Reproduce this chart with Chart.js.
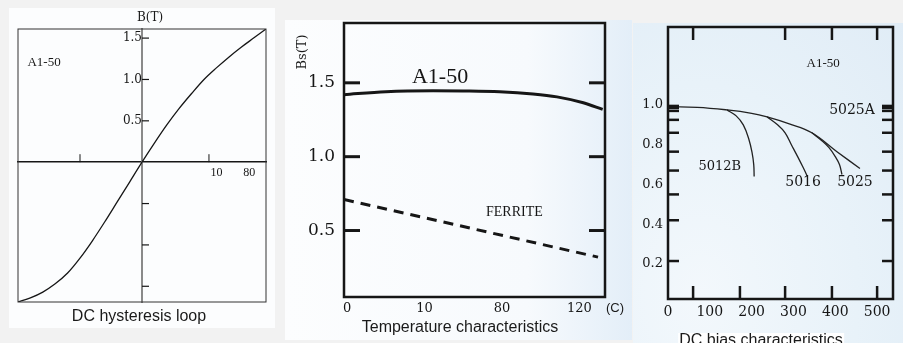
<!DOCTYPE html>
<html>
<head>
<meta charset="utf-8">
<script src="https://cdn.jsdelivr.net/npm/chart.js@4.4.1/dist/chart.umd.min.js"></script>
<style>
  html, body { margin: 0; padding: 0; background: #f2f2f2; }
  #page { position: relative; width: 903px; height: 343px; overflow: hidden; }
  .panel { position: absolute; }
  .panel canvas { position: absolute; left: 0; top: 0; }
  .cap { position: absolute; font-family: "Liberation Sans", Arial, sans-serif; font-size: 16px; line-height: 16px; color: #1a1a1a; white-space: nowrap; transform: translateX(-50%); }
  .serif { font-family: "DejaVu Serif", serif; }
</style>
</head>
<body>
<div id="page">
  <div class="panel" id="p1" style="left:9px;top:8px;width:266px;height:320px;background:#fcfdfe">
    <canvas id="c1" width="266" height="320"></canvas>
  </div>
  <div class="panel" id="p2" style="left:285px;top:20px;width:347px;height:320px;background:linear-gradient(90deg,#fcfdfe 0%,#f7fafd 70%,#e3eef8 100%)">
    <canvas id="c2" width="347" height="320"></canvas>
  </div>
  <div class="panel" id="p3" style="left:633px;top:23px;width:270px;height:320px;background:radial-gradient(ellipse at 25% 85%,#f3f8fc 0%,#e8f2f9 55%,#e0ecf6 100%)">
    <canvas id="c3" width="270" height="320"></canvas>
  </div>

  <div class="cap serif" style="left:150px;top:10px;font-size:12px;line-height:14px">B(T)</div>
  <div class="cap" style="left:139px;top:308px">DC hysteresis loop</div>

  <div class="cap serif" style="left:302px;top:45px;font-size:13px;line-height:14px;transform:translateX(-50%) rotate(-90deg)">Bs(T)</div>
  <div class="cap" style="left:615px;top:301px;font-size:13px;line-height:14px">(C)</div>
  <div class="cap" style="left:460px;top:319px">Temperature characteristics</div>

  <div class="cap" style="left:761px;top:333px;background:#fff;padding:0 1px;line-height:14px">DC bias characteristics</div>
</div>

<script>
// ── DC hysteresis loop ──
const hystH      = [-1, -0.9, -0.8, -0.7, -0.6, -0.5, -0.4, -0.3, -0.2, -0.1, 0, 0.1, 0.2, 0.3, 0.4, 0.5, 0.6, 0.7, 0.8, 0.9, 1];
const hystB      = [-1.69, -1.64, -1.57, -1.47, -1.34, -1.16, -0.95, -0.72, -0.48, -0.24, 0, 0.23, 0.45, 0.65, 0.83, 1.0, 1.14, 1.27, 1.39, 1.5, 1.61];
const hystBTicks = [0.5, 1.0, 1.5];
const hystBMarks = [-1.5, -1.0, -0.5, 0.5, 1.0, 1.5];
const hystHTicks = [0.6, 0.865];
const hystHLabels = ['10', '80'];
const hystHMarks = [-0.5, 0.54];

// ── Temperature characteristics ──
const tempPos    = [0, 1, 2, 3];
const tempLabels = ['0', '10', '80', '120'];
const a150X      = [-0.04, 0.5, 1.11, 1.5, 1.97, 2.4, 2.71, 3.05, 3.30];
const a150Bs     = [1.42, 1.44, 1.446, 1.445, 1.44, 1.425, 1.405, 1.365, 1.32];
const ferriteX   = [-0.04, 3.24];
const ferriteBs  = [0.71, 0.32];
const bsTicks    = [0.5, 1.0, 1.5];

// ── DC bias characteristics ──
const biasTicks  = [0, 100, 200, 300, 400, 500];
const biasMarksBottom = [60, 172, 280, 392, 500];
const biasMarksTop    = [60, 280, 392, 500];
const muTicks    = [0.2, 0.4, 0.6, 0.8, 1.0];
const muMarks    = [0.995, 0.985, 0.97, 0.925, 0.86, 0.765, 0.67, 0.55, 0.42, 0.215];
const mainX      = [0, 70, 141, 200, 237, 290, 344, 404, 459];
const mainMu     = [0.99, 0.988, 0.975, 0.958, 0.94, 0.905, 0.86, 0.765, 0.68];
const b5012X     = [141, 163, 180, 193, 201, 205, 206];
const b5012Mu    = [0.975, 0.945, 0.9, 0.83, 0.76, 0.70, 0.64];
const b5016X     = [237, 262, 280, 295, 310, 322, 330, 333];
const b5016Mu    = [0.94, 0.9, 0.86, 0.8, 0.74, 0.69, 0.655, 0.64];
const b5025X     = [344, 368, 385, 400, 410, 416];
const b5025Mu    = [0.86, 0.82, 0.785, 0.74, 0.70, 0.65];

const SERIF  = '"DejaVu Serif", serif';
const TIMES  = '"Liberation Serif", "Times New Roman", serif';
const INK    = '#161616';

const pts = (xs, ys) => xs.map((x, i) => ({ x, y: ys[i] }));
const fixTicks = vals => s => { s.ticks = vals.map(v => ({ value: v })); };
// fixed axis box, no label overhang padding
const fixW = w => s => { s.width = w; s.paddingTop = 0; s.paddingBottom = 0; };
const fixH = h => s => { s.height = h; s.paddingLeft = 0; s.paddingRight = 0; };

// inward tick marks, frame and in-plot labels
const decor = {
    id: 'decor',
    afterDraw(chart, args, o) {
        const { ctx, chartArea: a, scales } = chart;
        ctx.save();
        ctx.strokeStyle = INK;
        ctx.lineCap = 'butt';
        (o.marks || []).forEach(m => {
            const s = scales[m.axis];
            ctx.lineWidth = m.width;
            m.values.forEach(v => {
                const p = s.getPixelForValue(v);
                ctx.beginPath();
                if (m.axis === 'y') {
                    const x0 = m.from === 'right' ? a.right : m.from === 'zero' ? scales.x.getPixelForValue(0) : a.left;
                    const d  = m.from === 'right' ? -1 : 1;
                    ctx.moveTo(x0, p); ctx.lineTo(x0 + d * m.len, p);
                } else {
                    const y0 = m.from === 'top' ? a.top : m.from === 'zero' ? scales.y.getPixelForValue(0) : a.bottom;
                    const d  = m.from === 'top' ? 1 : -1;
                    ctx.moveTo(p, y0); ctx.lineTo(p, y0 + d * m.len);
                }
                ctx.stroke();
            });
        });
        if (o.frame) {
            ctx.lineWidth = o.frame;
            ctx.strokeStyle = o.frameColor || INK;
            ctx.strokeRect(a.left, a.top, a.width, a.height);
        }
        ctx.fillStyle = INK;
        ctx.textAlign = 'center';
        ctx.textBaseline = 'middle';
        (o.labels || []).forEach(l => {
            ctx.font = l.font;
            ctx.fillText(l.text, scales.x.getPixelForValue(l.x), scales.y.getPixelForValue(l.y));
        });
        ctx.restore();
    }
};

const base = {
    responsive: false,
    animation: false,
    devicePixelRatio: 1,
};
const quiet = { legend: { display: false }, tooltip: { enabled: false } };
const noGrid = { display: false, drawTicks: false };

// ── Chart 1 ──
new Chart(document.getElementById('c1'), {
    type: 'line',
    data: { datasets: [{
        data: pts(hystH, hystB), borderColor: INK, borderWidth: 1.3,
        pointRadius: 0, cubicInterpolationMode: 'monotone', fill: false
    }] },
    options: {
        ...base,
        layout: { padding: { left: 9, top: 21, right: 9, bottom: 26 } },
        scales: {
            x: {
                type: 'linear', min: -1, max: 1, position: { y: 0 },
                afterBuildTicks: fixTicks(hystHTicks),
                grid: noGrid,
                border: { display: true, color: INK, width: 1.5 },
                ticks: { padding: 3, color: INK, font: { family: TIMES, size: 12 },
                         maxRotation: 0, autoSkip: false,
                         callback: (v, i) => hystHLabels[i] }
            },
            y: {
                type: 'linear', min: -1.69, max: 1.61, position: { x: 0 },
                afterBuildTicks: fixTicks(hystBTicks),
                grid: noGrid,
                border: { display: true, color: '#8a8a8a', width: 2 },
                ticks: { padding: 5, color: INK, font: { family: SERIF, size: 12 },
                         callback: v => v.toFixed(1) }
            }
        },
        plugins: {
            ...quiet,
            decor: {
                frame: 1, frameColor: '#333',
                marks: [
                    { axis: 'y', values: hystBMarks, from: 'zero', len: 7, width: 1.2 },
                    { axis: 'x', values: hystHMarks, from: 'zero', len: 8, width: 1 }
                ],
                labels: [{ text: 'A1-50', x: -0.79, y: 1.21, font: '13px ' + TIMES }]
            }
        }
    },
    plugins: [decor]
});

// ── Chart 2 ──
new Chart(document.getElementById('c2'), {
    type: 'line',
    data: { datasets: [
        { data: pts(a150X, a150Bs), borderColor: INK, borderWidth: 3,
          pointRadius: 0, cubicInterpolationMode: 'monotone', fill: false },
        { data: pts(ferriteX, ferriteBs), borderColor: INK, borderWidth: 3,
          borderDash: [10, 7], pointRadius: 0, fill: false }
    ] },
    options: {
        ...base,
        layout: { padding: { left: 0, top: 3, right: 27, bottom: 0 } },
        scales: {
            x: {
                type: 'linear', min: -0.04, max: 3.33,
                afterBuildTicks: fixTicks(tempPos),
                afterFit: fixH(43),
                grid: noGrid, border: { display: false },
                ticks: { padding: 4, color: INK, font: { family: SERIF, size: 13 },
                         maxRotation: 0, autoSkip: false,
                         callback: (v, i) => tempLabels[i] }
            },
            y: {
                type: 'linear', min: 0.05, max: 1.905,
                afterBuildTicks: fixTicks(bsTicks),
                afterFit: fixW(59),
                grid: noGrid, border: { display: false },
                ticks: { padding: 9, color: INK, font: { family: SERIF, size: 17 },
                         callback: v => v.toFixed(1) }
            }
        },
        plugins: {
            ...quiet,
            decor: {
                frame: 2.5,
                marks: [
                    { axis: 'y', values: bsTicks, from: 'left', len: 16, width: 3 },
                    { axis: 'y', values: bsTicks, from: 'right', len: 16, width: 3 }
                ],
                labels: [
                    { text: 'A1-50', x: 1.20, y: 1.54, font: '22px ' + TIMES },
                    { text: 'FERRITE', x: 2.16, y: 0.62, font: '14px ' + TIMES }
                ]
            }
        }
    },
    plugins: [decor]
});

// ── Chart 3 ──
const thin = { borderColor: '#222', borderWidth: 1.3, pointRadius: 0, tension: 0.4, fill: false };
new Chart(document.getElementById('c3'), {
    type: 'line',
    data: { datasets: [
        { data: pts(mainX, mainMu), ...thin },
        { data: pts(b5012X, b5012Mu), ...thin },
        { data: pts(b5016X, b5016Mu), ...thin },
        { data: pts(b5025X, b5025Mu), ...thin }
    ] },
    options: {
        ...base,
        layout: { padding: { left: 0, top: 4, right: 10, bottom: 0 } },
        scales: {
            x: {
                type: 'linear', min: 0, max: 538,
                afterBuildTicks: fixTicks(biasTicks),
                afterFit: fixH(44),
                grid: noGrid, border: { display: false },
                ticks: { padding: 5, color: INK, font: { family: SERIF, size: 14 },
                         maxRotation: 0, autoSkip: false }
            },
            y: {
                type: 'linear', min: 0.024, max: 1.392,
                afterBuildTicks: fixTicks(muTicks),
                afterFit: fixW(35),
                grid: noGrid, border: { display: false },
                ticks: { padding: 5, color: INK, font: { family: SERIF, size: 13 },
                         callback: v => v.toFixed(1) }
            }
        },
        plugins: {
            ...quiet,
            decor: {
                frame: 2.5,
                marks: [
                    { axis: 'y', values: muMarks, from: 'left', len: 11, width: 2.5 },
                    { axis: 'y', values: muMarks, from: 'right', len: 11, width: 2.5 },
                    { axis: 'x', values: biasMarksBottom, from: 'bottom', len: 13, width: 2.5 },
                    { axis: 'x', values: biasMarksTop, from: 'top', len: 13, width: 2.5 }
                ],
                labels: [
                    { text: 'A1-50', x: 371, y: 1.21, font: '13px ' + TIMES },
                    { text: '5025A', x: 440, y: 0.975, font: '14px ' + SERIF },
                    { text: '5012B', x: 124, y: 0.69, font: '13px ' + SERIF },
                    { text: '5016', x: 323, y: 0.61, font: '14px ' + SERIF },
                    { text: '5025', x: 447, y: 0.61, font: '14px ' + SERIF }
                ]
            }
        }
    },
    plugins: [decor]
});
</script>
</body>
</html>
